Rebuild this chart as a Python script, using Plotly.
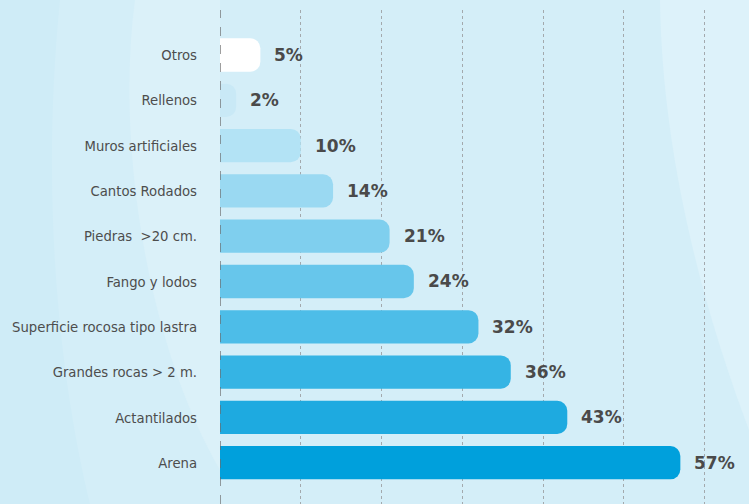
import plotly.graph_objects as go

categories = ["Arena", "Actantilados", "Grandes rocas > 2 m.", "Superficie rocosa tipo lastra",
              "Fango y lodos", "Piedras  >20 cm.", "Cantos Rodados", "Muros artificiales",
              "Rellenos", "Otros"]
values = [57, 43, 36, 32, 24, 21, 14, 10, 2, 5]
labels = ["57%", "43%", "36%", "32%", "24%", "21%", "14%", "10%", "2%", "5%"]
colors = ["#00a0dc", "#1eaae0", "#35b4e4", "#4dbde8", "#67c6eb", "#7fcfee",
          "#9ad9f2", "#b3e3f5", "#c9e9f6", "#ffffff"]

W, H = 749, 504
ML, MT = 220, 10


def px(x, y):
    return (x - ML) / (W - ML), (H - y) / (H - MT)


def path(points):
    out = []
    for cmd, pts in points:
        coords = " ".join("%.4f,%.4f" % px(x, y) for x, y in pts)
        out.append(cmd + coords)
    return " ".join(out) + " Z"


fig = go.Figure()
fig.add_trace(go.Bar(
    x=values, y=categories, orientation="h",
    marker=dict(color=colors, cornerradius=10, line=dict(width=0)),
    width=0.735, hoverinfo="skip",
))

for v, c, t in zip(values, categories, labels):
    fig.add_annotation(x=v, y=c, text="<b>%s</b>" % t, showarrow=False,
                       xanchor="left", xshift=12,
                       font=dict(family="DejaVu Sans", size=17, color="#4a4a4a"))

shapes = [
    dict(type="path", xref="paper", yref="paper", layer="below", line=dict(width=0),
         fillcolor="#ddf2fa",
         path=path([("M", [(660, 0)]), ("C", [(662, 150), (700, 300), (749, 430)]),
                    ("L", [(749, 0)])])),
    dict(type="path", xref="paper", yref="paper", layer="below", line=dict(width=0),
         fillcolor="#dbf1f9",
         path=path([("M", [(135, 0)]), ("C", [(115, 150), (150, 350), (220, 470)]),
                    ("L", [(220, 0)])])),
    dict(type="path", xref="paper", yref="paper", layer="below", line=dict(width=0),
         fillcolor="#cfecf7",
         path=path([("M", [(0, 504)]), ("L", [(0, 0)]), ("L", [(60, 0)]),
                    ("C", [(40, 200), (60, 380), (90, 504)])])),
    dict(type="line", xref="x", yref="paper", x0=0, x1=0, y0=0, y1=1,
         line=dict(color="#6b6b6b", width=1.3, dash="dash"), layer="above"),
]

fig.update_layout(
    width=W, height=H,
    margin=dict(l=ML, r=0, t=MT, b=0, autoexpand=False),
    paper_bgcolor="#d4eef8",
    plot_bgcolor="rgba(0,0,0,0)",
    showlegend=False,
    shapes=shapes,
    xaxis=dict(range=[0, 65.5], dtick=10, showgrid=True, gridcolor="#a3a9ad",
               griddash="dot", gridwidth=1, zeroline=False, showticklabels=False,
               showline=False, fixedrange=True, automargin=False),
    yaxis=dict(range=[-0.912, 9.993], showgrid=False, zeroline=False, ticks="",
               ticklabelstandoff=22, showline=False, automargin=False, fixedrange=True,
               tickfont=dict(family="DejaVu Sans Condensed, sans-serif",
                             size=14.7, color="#4d4d4d")),
)

fig.write_html("out.html",
               config={"displayModeBar": False, "staticPlot": True},
               post_script="document.body.style.margin='0';document.body.style.padding='0';"
                           "document.body.style.background='#d4eef8';")
